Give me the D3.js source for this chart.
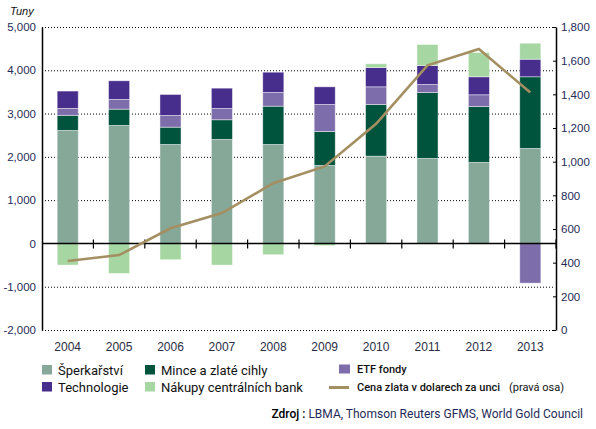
<!DOCTYPE html>
<html><head><meta charset="utf-8">
<script src="https://cdn.jsdelivr.net/npm/d3@7"></script>
<style>body{margin:0;background:#fff}svg{display:block}</style>
</head><body>
<svg id="c" width="596" height="429"></svg>
<script>
const years = ["2004","2005","2006","2007","2008","2009","2010","2011","2012","2013"];
const jewelry   = [2610, 2725, 2286, 2402, 2286, 1801, 2016, 1963, 1871, 2194];
const barsCoins = [ 350,  377,  400,  455,  885,  786, 1194, 1524, 1293, 1656];
const etf       = [ 160,  224,  270,  261,  316,  623,  408,  185,  270, -917];
const technology= [ 400,  431,  485,  469,  469,  408,  447,  439,  416,  406];
const centralBanks = [-500, -693, -376, -500, -261, -50, 85, 485, 561, 370];
const goldPrice = [410, 445, 604, 695, 872, 972, 1225, 1572, 1669, 1411];
const leftTicks = [-2000,-1000,0,1000,2000,3000,4000,5000];
const rightTicks = [0,200,400,600,800,1000,1200,1400,1600,1800];

const seriesNames = ["Šperkařství","Mince a zlaté cihly","ETF fondy","Technologie","Nákupy centrálních bank"];
const seriesKeys = ["jewelry","coins","etf","tech","cb"];
const colors = {jewelry:"#86a898", coins:"#00533d", etf:"#7e6dab", tech:"#472d8c", cb:"#a6d6a2"};
const lineColor = "#a38f62";
const navy = "#1f2b58";

const rows = years.map((y,i)=>({year:y, jewelry:jewelry[i], coins:barsCoins[i], etf:etf[i], tech:technology[i], cb:centralBanks[i]}));

const svg = d3.select("#c");
const L=42, R=556, T=27, B=330;
const x = d3.scaleBand().domain(years).range([L,R]).paddingInner(0.59).paddingOuter(0.295);
const y = d3.scaleLinear().domain([-2000,5000]).range([B,T]);
const y2 = d3.scaleLinear().domain([0,1800]).range([B,T]);
const fmt = d => d3.format(",")(d).replace("\u2212","-");

// gridlines
svg.append("g").selectAll("line").data(leftTicks.filter(d=>d!==0)).join("line")
  .attr("x1",L).attr("x2",R-3).attr("y1",d=>y(d)+0.5).attr("y2",d=>y(d)+0.5)
  .attr("stroke","#000").attr("stroke-width",1).attr("stroke-dasharray","1,2");

// bars
const stack = d3.stack().keys(seriesKeys).offset(d3.stackOffsetDiverging);
const stacked = stack(rows);
svg.append("g").selectAll("g").data(stacked).join("g")
  .attr("fill",d=>colors[d.key])
  .selectAll("rect").data(d=>d).join("rect")
  .attr("x",d=>x(d.data.year)).attr("width",x.bandwidth())
  .attr("y",d=>y(Math.max(d[0],d[1]))).attr("height",d=>Math.abs(y(d[0])-y(d[1])))
  .attr("stroke","#ffffff").attr("stroke-opacity",0.55).attr("stroke-width",0.8);

// left axis
const la = svg.append("g").attr("transform",`translate(${L},0)`)
  .call(d3.axisLeft(y).tickValues(leftTicks).tickSize(0).tickPadding(6).tickFormat(fmt));
la.select(".domain").attr("stroke","#000").attr("stroke-width",1.5);
la.selectAll("text").attr("fill",navy).style("font-family","Liberation Sans, Arial, sans-serif").style("font-size","11.5px");

// right axis
const ra = svg.append("g").attr("transform",`translate(${R},0)`)
  .call(d3.axisRight(y2).tickValues(rightTicks).tickSize(0).tickPadding(5).tickFormat(fmt));
ra.select(".domain").attr("stroke","#000").attr("stroke-width",1.5);
ra.selectAll(".tick line").remove();
ra.selectAll(".tick").append("line").attr("x1",-3).attr("x2",0).attr("stroke","#000");
ra.selectAll("text").attr("fill",navy).style("font-family","Liberation Sans, Arial, sans-serif").style("font-size","11.5px");

// zero line + category ticks
svg.append("line").attr("x1",L).attr("x2",R).attr("y1",y(0)).attr("y2",y(0)).attr("stroke","#000").attr("stroke-width",1.5);
const step = x.step();
svg.append("g").selectAll("line").data(years.slice(1).concat(["end"])).join("line")
  .attr("x1",(d,i)=>L+step*(i+1)).attr("x2",(d,i)=>L+step*(i+1))
  .attr("y1",y(0)-4).attr("y2",y(0)+5).attr("stroke","#000").attr("stroke-width",1.2);

// year labels
svg.append("g").selectAll("text").data(years).join("text")
  .attr("x",d=>x(d)+x.bandwidth()/2).attr("y",351).attr("text-anchor","middle")
  .attr("fill","#2a2d45").style("font-family","Liberation Sans, Arial, sans-serif").style("font-size","12px")
  .text(d=>d);

// line
const line = d3.line().x((d,i)=>x(years[i])+x.bandwidth()/2).y(d=>y2(d));
svg.append("path").datum(goldPrice).attr("d",line).attr("fill","none")
  .attr("stroke",lineColor).attr("stroke-width",2.6);

// Tuny
svg.append("text").attr("x",10).attr("y",15).style("font-family","Liberation Sans, Arial, sans-serif")
  .style("font-size","11px").style("font-style","italic").attr("fill","#111").text("Tuny");

// legend
const lf = "Roboto, Liberation Sans, sans-serif";
const leg = [
  {k:"jewelry", t:seriesNames[0], x:42, y:365},
  {k:"tech", t:seriesNames[3], x:42, y:382},
  {k:"coins", t:seriesNames[1], x:145, y:365},
  {k:"cb", t:seriesNames[4], x:145, y:382}
];
const lg = svg.append("g");
leg.forEach(l=>{
  lg.append("rect").attr("x",l.x).attr("y",l.y).attr("width",10).attr("height",9.5).attr("fill",colors[l.k]);
  lg.append("text").attr("x",l.x+16).attr("y",l.y+10).style("font-family",lf).style("font-size","13px").attr("fill","#111").text(l.t);
});
lg.append("rect").attr("x",339).attr("y",364.5).attr("width",11).attr("height",9).attr("fill",colors.etf);
lg.append("text").attr("x",357).attr("y",373).style("font-family",lf).style("font-size","11px").style("font-weight","500").attr("fill","#111").text(seriesNames[2]);
lg.append("line").attr("x1",329).attr("x2",349).attr("y1",387.5).attr("y2",387.5).attr("stroke",lineColor).attr("stroke-width",3);
lg.append("text").attr("x",357).attr("y",391).style("font-family",lf).style("font-size","11px").style("font-weight","500").attr("fill","#111").text("Cena zlata v dolarech za unci");
lg.append("text").attr("x",509).attr("y",391).style("font-family",lf).style("font-size","11px").attr("fill","#111").text("(pravá osa)");

// source
const src = svg.append("text").attr("x",583).attr("y",418).attr("text-anchor","end").style("font-family",lf).style("font-size","12px");
src.append("tspan").attr("fill","#000").style("font-weight","500").text("Zdroj : ");
src.append("tspan").attr("fill",navy).text("LBMA, Thomson Reuters GFMS, World Gold Council");
</script>
</body></html>
